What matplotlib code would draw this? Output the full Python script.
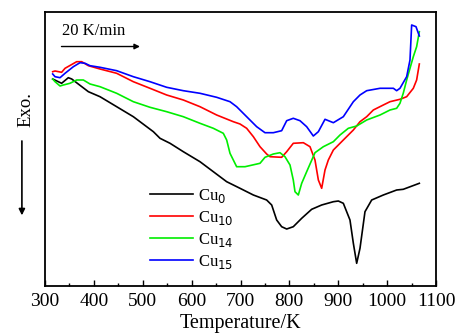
import numpy as np
import matplotlib.pyplot as plt

plt.rcParams['font.family'] = ['Liberation Serif', 'DejaVu Serif']

# DSC traces, temperature (K) and heat flow (arbitrary units, exo up)
t_cu0 = [315.7, 334, 347.7, 354.6, 388.7, 412.5, 446.6, 480.7, 521.7, 535.3, 555.8, 583,
         617.1, 644.4, 671.7, 699, 726.3, 753.5, 763.8, 774, 784.2, 794.5, 808, 825.2,
         845.6, 866, 890, 900.2, 910.4, 924, 930.9, 937.7, 944.5, 954.7, 968.4, 992.2,
         1019.5, 1033, 1065.9]
h_cu0 = [207, 202.7, 208.3, 207, 194.3, 189.3, 179.3, 169.3, 154.3, 147.7, 142.7, 134.3,
         124.3, 114.3, 104.3, 97.7, 91, 86, 81, 66, 59.3, 57, 59.3, 67.7,
         76.7, 81, 84.3, 85, 82.7, 66, 42.7, 22.7, 37.7, 74.3, 86, 91,
         96, 96.7, 102.7]

t_cu10 = [315.7, 320.5, 334, 341, 364.8, 375, 388.7, 412.5, 446.6, 480.7, 514.8, 548.9,
          583, 617.1, 651.2, 685.3, 699, 712.6, 726.3, 739.9, 753.5, 760.4, 784.2, 794.5,
          808, 828.6, 842.2, 852.4, 859.3, 866.1, 872.9, 879.7, 890, 910.4, 930.9, 944.5,
          958.2, 971.8, 992.2, 1005.9, 1026.3, 1040, 1053.6, 1060.4, 1065.9]
h_cu10 = [214.3, 215, 213.7, 217.7, 224.3, 224.3, 220.3, 217, 212.7, 204.3, 197.7, 191,
          186, 179.3, 171, 164.3, 162, 157.7, 149.3, 139.3, 132, 129.3, 128.7, 134.3,
          142.7, 143.3, 139.3, 126, 106, 97.7, 116, 126, 136, 146, 156, 164.3,
          169.3, 176, 181, 184.3, 186.7, 189.3, 197.7, 206, 222]

t_cu14 = [315.7, 320.5, 330.7, 337.5, 351.1, 364.8, 378.4, 392.1, 412.5, 446.6, 480.7, 514.8,
          548.9, 583, 617.1, 644.4, 664.8, 671.7, 678.5, 692.1, 709.2, 739.9, 750.1, 767.2,
          780.8, 791, 801.3, 808, 811.5, 818.3, 825.2, 835.4, 852.4, 869.5, 890, 903.6,
          920.6, 937.7, 958.2, 985.5, 1005.9, 1019.5, 1026.3, 1033, 1040, 1053.6, 1060.4, 1065.9]
h_cu14 = [207, 204.3, 200, 201, 202.7, 206, 206, 202, 199.3, 192.7, 184.3, 178.7,
          174.3, 169.3, 162.7, 157.7, 152.7, 146, 132.7, 119.3, 119.3, 122.7, 128.7, 132,
          133.3, 129.3, 121, 106, 94.3, 91, 102.7, 114.3, 133.3, 139.3, 144.3, 151,
          157.7, 160, 166, 171, 176, 177.7, 182.7, 192.7, 206, 229.3, 239.3, 254.3]

t_cu15 = [315.7, 320.5, 330.7, 341, 358, 371.6, 381.8, 392.1, 412.5, 446.6, 480.7, 514.8,
          548.9, 583, 617.1, 651.2, 678.5, 692.1, 712.6, 733.1, 750.1, 767.2, 784.2, 794.5,
          808, 821.7, 835.4, 849, 859.3, 872.9, 890, 910.4, 930.9, 944.5, 958.2, 985.5,
          1012.8, 1019.5, 1026.3, 1040, 1046.8, 1050.2, 1059.1, 1065.9]
h_cu15 = [212, 209.3, 208.3, 212.7, 219.3, 223.3, 222.7, 220.3, 218.7, 215.3, 209.3, 204.3,
          198.7, 195.3, 192.7, 188.7, 184.3, 179.3, 169.3, 159.3, 153.3, 153.3, 155.3, 165.3,
          167.7, 165.3, 159.3, 150, 154.3, 166.7, 163.3, 169.3, 184.3, 191, 195.3, 197.7,
          197.7, 195.3, 197.7, 209.3, 226, 261, 259.3, 250]

fig = plt.figure(figsize=(4.66, 3.33), dpi=100)
ax = fig.add_axes([0.0966, 0.1411, 0.839, 0.8229])

ax.plot(t_cu0, h_cu0, color='black', lw=1.2, label='Cu$_{0}$')
ax.plot(t_cu10, h_cu10, color='#ff0000', lw=1.2, label='Cu$_{10}$')
ax.plot(t_cu14, h_cu14, color='#00ee00', lw=1.2, label='Cu$_{14}$')
ax.plot(t_cu15, h_cu15, color='#0000ff', lw=1.2, label='Cu$_{15}$')

ax.set_xlim(300, 1100)
ax.set_ylim(0, 274)
ax.set_xticks(np.arange(300, 1101, 100))
ax.set_xticks(np.arange(350, 1100, 100), minor=True)
ax.tick_params(axis='x', which='both', direction='in', labelsize=14, pad=5)
ax.tick_params(axis='x', which='major', length=4, width=1)
ax.tick_params(axis='x', which='minor', length=2.5, width=1)
ax.set_yticks([])
for s in ax.spines.values():
    s.set_linewidth(1.3)

ax.set_xlabel('Temperature/K', fontsize=14.5, labelpad=3)

ax.legend(loc='lower left', bbox_to_anchor=(0.23, 0.0), frameon=False, fontsize=12,
          handlelength=2.6, handletextpad=0.3, labelspacing=0.25)

# heating rate note
ax.text(0.044, 0.93, '20 K/min', transform=ax.transAxes, fontsize=12, va='center')
ax.annotate('', xy=(0.25, 0.874), xytext=(0.035, 0.874), xycoords='axes fraction',
            arrowprops=dict(arrowstyle='-|>', color='black', lw=1, mutation_scale=8))

# exo direction
fig.text(0.055, 0.67, 'Exo.', rotation=90, fontsize=13.5, ha='center', va='center')
fig.add_artist(plt.Annotation('', xy=(0.047, 0.345), xytext=(0.047, 0.585),
                              xycoords='figure fraction',
                              arrowprops=dict(arrowstyle='-|>', color='black', lw=1.2,
                                              mutation_scale=9)))

plt.savefig('out.png', dpi=100)
